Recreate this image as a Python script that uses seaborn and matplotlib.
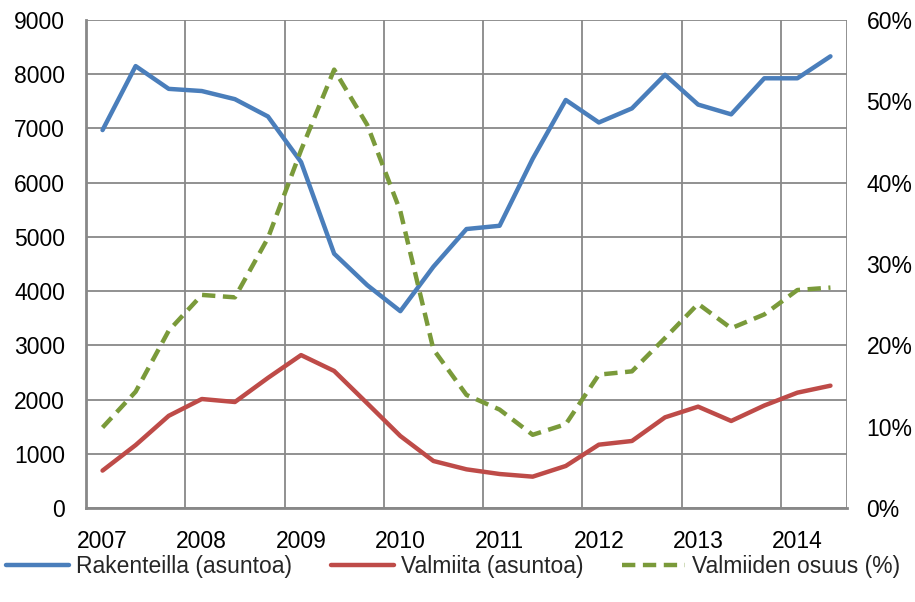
import numpy as np
import pandas as pd
import matplotlib
matplotlib.use("Agg")
import matplotlib.pyplot as plt
import seaborn as sns
from matplotlib.ticker import FuncFormatter, FixedLocator

# Four-month periods, 2007/1 .. 2014/2
periods = [f"{y}/{t}" for y in range(2007, 2015) for t in (1, 2, 3)][:23]
year_labels = ["2007", "2008", "2009", "2010", "2011", "2012", "2013", "2014"]

rakenteilla = [6970, 8150, 7730, 7690, 7540, 7220, 6380, 4690, 4110, 3630, 4450, 5145,
               5205, 6440, 7525, 7110, 7370, 7990, 7440, 7260, 7925, 7925, 8330]
valmiita = [690, 1160, 1700, 2010, 1955, 2400, 2820, 2527, 1930, 1328, 867, 713,
            627, 578, 775, 1168, 1236, 1672, 1869, 1605, 1890, 2127, 2256]
osuus = [9.9, 14.3, 21.8, 26.2, 25.9, 33.2, 44.0, 53.9, 47.1, 36.5, 19.5, 13.9,
         12.1, 9.0, 10.3, 16.4, 16.8, 20.9, 25.1, 22.1, 23.8, 26.8, 27.1]

df = pd.DataFrame({
    "idx": np.arange(len(periods)),
    "period": periods,
    "Rakenteilla (asuntoa)": rakenteilla,
    "Valmiita (asuntoa)": valmiita,
    "Valmiiden osuus (%)": osuus,
})

sns.set_theme(style="white")
plt.rcParams["font.family"] = ["Liberation Sans", "DejaVu Sans"]

BLUE = "#4A7EBB"
RED = "#BE4B48"
GREEN = "#7A9A3A"
GRID = "#888888"
FS = 16.5

fig = plt.figure(figsize=(9.15, 6.02), dpi=100)
ax = fig.add_axes([86 / 915, 1 - 508 / 602, (847 - 86) / 915, (508 - 20) / 602])
ax2 = ax.twinx()

sns.lineplot(data=df, x="idx", y="Rakenteilla (asuntoa)", ax=ax, color=BLUE,
             linewidth=3.2, label="Rakenteilla (asuntoa)", legend=False)
sns.lineplot(data=df, x="idx", y="Valmiita (asuntoa)", ax=ax, color=RED,
             linewidth=3.2, label="Valmiita (asuntoa)", legend=False)
sns.lineplot(data=df, x="idx", y="Valmiiden osuus (%)", ax=ax2, color=GREEN,
             linewidth=3.2, label="Valmiiden osuus (%)", legend=False)
ax2.lines[0].set_dashes((3.0, 1.7))

n = len(periods)
ax.set_xlim(-0.5, n - 0.5)
ax.set_ylim(0, 9000)
ax2.set_ylim(0, 60)
ax.set_yticks(np.arange(0, 9001, 1000))
ax2.set_yticks(np.arange(0, 61, 10))
ax2.yaxis.set_major_formatter(FuncFormatter(lambda v, p: f"{v:.0f}%"))

# category boundaries every third period carry the grid and tick marks
bounds = np.arange(-0.5, n + 0.5, 3)
ax.xaxis.set_major_locator(FixedLocator(list(bounds) + [n - 0.5]))
ax.xaxis.set_major_formatter(FuncFormatter(lambda v, p: ""))
ax.xaxis.set_minor_locator(FixedLocator(np.arange(0, n, 3)))
ax.set_xticklabels(year_labels, minor=True)

ax.grid(True, which="major", axis="both", color=GRID, linewidth=1.3)
ax2.grid(False)
ax.set_axisbelow(True)

ax.tick_params(axis="x", which="major", length=6, width=1.3, color=GRID, direction="out")
ax.tick_params(axis="x", which="minor", length=0, labelsize=FS, pad=16, labelcolor="black")
ax.tick_params(axis="y", length=0, labelsize=FS, pad=15, labelcolor="black")
ax2.tick_params(axis="y", length=0, labelsize=FS, pad=14, labelcolor="black")

ax.set_xlabel("")
ax.set_ylabel("")
ax2.set_ylabel("")

for a in (ax, ax2):
    for side in ("top", "right"):
        a.spines[side].set_visible(False)
    a.spines["left"].set_color(GRID)
    a.spines["left"].set_linewidth(2)
    a.spines["bottom"].set_color(GRID)
    a.spines["bottom"].set_linewidth(2)
ax2.spines["left"].set_visible(False)
ax2.spines["bottom"].set_visible(False)

handles = ax.get_lines()[:2] + ax2.get_lines()[:1]
labels = ["Rakenteilla (asuntoa)", "Valmiita (asuntoa)", "Valmiiden osuus (%)"]
fig.legend(handles, labels, loc="center", bbox_to_anchor=(0.495, 1 - 567 / 602),
           ncol=3, frameon=False, fontsize=FS, handlelength=2.75,
           handletextpad=0.3, columnspacing=1.7)

fig.savefig("out.png", dpi=100, facecolor="white")
